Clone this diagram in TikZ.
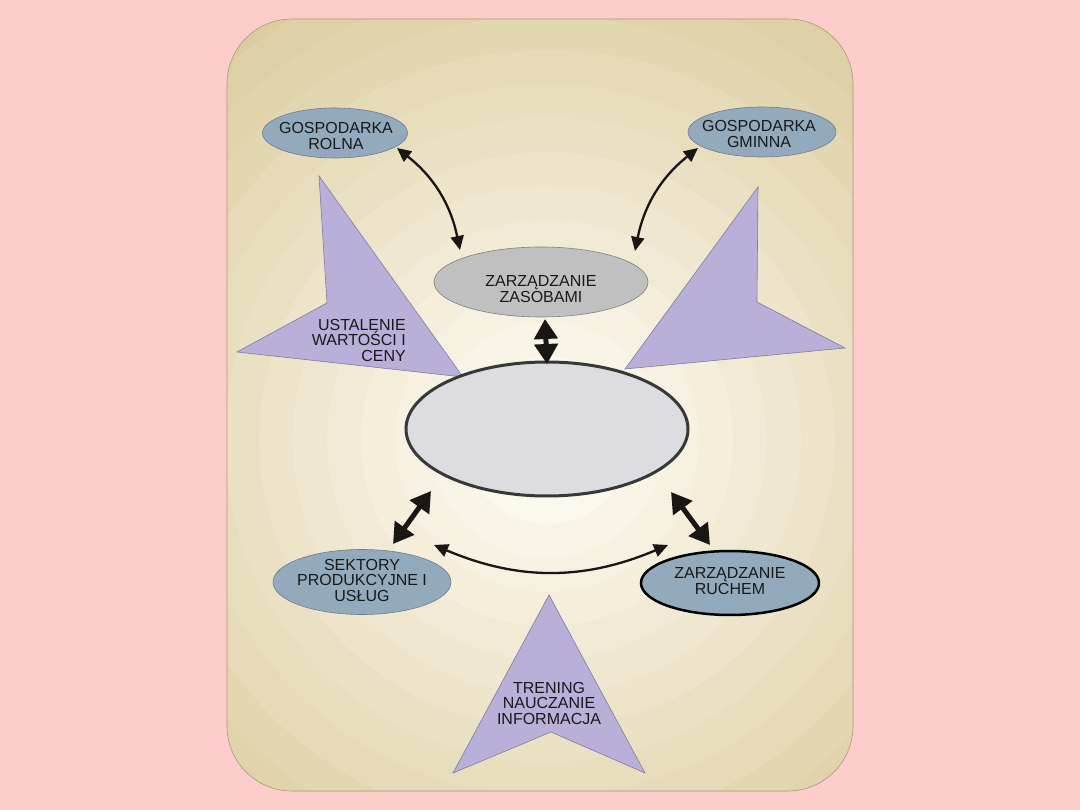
\documentclass[tikz,border=0pt]{standalone}
\usepackage{fontspec}
\setmainfont{Liberation Sans}
\usetikzlibrary{shapes.geometric,arrows.meta,calc}
\definecolor{pinkbg}{RGB}{255,204,204}
\definecolor{tanout}{RGB}{218,202,155}
\definecolor{tanin}{RGB}{253,251,242}
\definecolor{frame}{RGB}{170,155,120}
\definecolor{bluegrey}{RGB}{146,170,188}
\definecolor{bgborder}{RGB}{110,125,140}
\definecolor{zasfill}{RGB}{192,192,192}
\definecolor{cenfill}{RGB}{221,220,225}
\definecolor{purp}{RGB}{184,176,216}
\definecolor{purpline}{RGB}{130,122,160}
\definecolor{txt}{RGB}{25,25,25}
\definecolor{arrcol}{RGB}{25,22,20}
\begin{document}
\begin{tikzpicture}[x=1pt,y=-1pt,
  lbl/.style={text=txt,font=\fontsize{16}{15.5}\selectfont,align=center,inner sep=0pt},
  ellnode/.style={ellipse,inner sep=0pt},
  blueell/.style={ellnode,fill=bluegrey,draw=bgborder,line width=0.6pt},
  purpshape/.style={fill=purp,draw=purpline,line width=0.6pt},
  thinarr/.style={draw=arrcol,line width=2.3pt,{Triangle[length=14pt,width=13pt]}-{Triangle[length=14pt,width=13pt]}},
  thickarr/.style={draw=arrcol,line width=5pt,{Triangle[length=20pt,width=23pt]}-{Triangle[length=20pt,width=23pt]}}
]
\useasboundingbox (0,0) rectangle (1080,810);
\fill[pinkbg] (0,0) rectangle (1080,810);
\begin{scope}
  \clip[rounded corners=65pt] (227,19) rectangle (853,791);
  \fill[tanout] (227,19) rectangle (853,791);
  \foreach \i in {0,...,15}{
    \pgfmathsetmacro\rr{560-\i*34}
    \pgfmathsetmacro\pp{\i*100/15}
    \fill[tanin!\pp!tanout] (547,440) circle[radius=\rr pt];
  }
\end{scope}
\draw[frame,line width=0.6pt,rounded corners=65pt] (227,19) rectangle (853,791);

% purple shapes
\draw[purpshape] (319,176) -- (327,303) -- (237,352) -- (463,377) -- cycle;
\draw[purpshape] (758,187) -- (757,302) -- (845,348) -- (625,369) -- cycle;
\draw[purpshape] (549,595) -- (645,773) -- (551,732) -- (453,773) -- cycle;
\node[lbl,align=right,anchor=east] (ustal) at (406,340) {USTALENIE\\WARTOŚCI I\\CENY};
\node[lbl] (tren) at (549,703) {TRENING\\NAUCZANIE\\INFORMACJA};

% ellipses
\node[blueell,minimum width=145pt,minimum height=50pt] (rolna) at (335,133) {};
\node[lbl] (rolnat) at (336,136) {GOSPODARKA\\ROLNA};
\node[blueell,minimum width=148pt,minimum height=50pt] (gminna) at (762,132) {};
\node[lbl] (gminnat) at (759,134) {GOSPODARKA\\GMINNA};
\node[ellnode,fill=zasfill,draw=gray,line width=0.6pt,minimum width=214pt,minimum height=70pt] (zasoby) at (541,282) {};
\node[lbl] (zasobyt) at (541,289) {ZARZĄDZANIE\\ZASOBAMI};
\node[ellnode,fill=cenfill,draw=black!78,line width=3pt,minimum width=282pt,minimum height=134pt] (central) at (547,429) {};
\node[blueell,minimum width=178pt,minimum height=65pt] (sektory) at (362,582) {};
\node[lbl] (sektoryt) at (362,580) {SEKTORY\\PRODUKCYJNE I\\USŁUG};
\node[ellnode,fill=bluegrey,draw=black,line width=2.5pt,minimum width=178pt,minimum height=64pt] (ruchem) at (730,583) {};
\node[lbl] (ruchemt) at (730,581) {ZARZĄDZANIE\\RUCHEM};

% connectors
\draw[thinarr] ($(rolna)+(62,15)$) to[bend left=20] ($(zasoby)+(-81,-32)$);
\draw[thinarr] ($(gminna)+(-64,16)$) to[bend right=20] ($(zasoby)+(94,-31)$);
\draw[thinarr] ($(sektory)+(72,-37)$) to[bend right=23] ($(ruchem)+(-62,-38)$);
\draw[thickarr] ($(zasoby)+(4,37)$) -- ($(central)+(0,-65)$);
\draw[thickarr] ($(central)+(-116,62)$) -- ($(sektory)+(31,-38)$);
\draw[thickarr] ($(central)+(124,63)$) -- ($(ruchem)+(-20,-38)$);
\end{tikzpicture}
\end{document}
